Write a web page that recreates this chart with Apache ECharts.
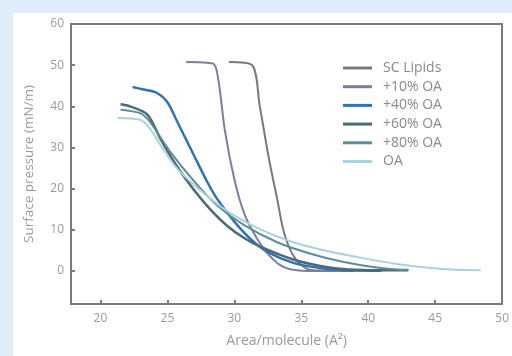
<!DOCTYPE html>
<html>
<head>
<meta charset="utf-8">
<script src="https://cdn.jsdelivr.net/npm/echarts@6/dist/echarts.min.js"></script>
<style>
  html, body { margin: 0; padding: 0; background: #deedf9; }
  #main { width: 512px; height: 356px; }
</style>
</head>
<body>
<div id="main"></div>
<script>
// isotherms: [area, pressure]
const seriesNames = ['SC Lipids', '+10% OA', '+40% OA', '+60% OA', '+80% OA', 'OA']
const scLipids = [[29.6, 50.8], [31.3, 50.1], [31.9, 40], [32.6, 27], [33.2, 17.5], [33.7, 9.5], [34.4, 3.8], [35.4, 0.6], [36.5, 0.1], [39, 0]]
const oa10 = [[26.4, 50.8], [28.4, 50.4], [28.8, 46.5], [29.3, 34], [30, 22.3], [30.7, 14.3], [31.4, 9.5], [32.4, 4.6], [33.4, 1.5], [34.4, 0.3], [36, 0], [38, 0]]
const oa40 = [[22.4, 44.7], [23.2, 44.1], [24.2, 43.3], [25, 41], [25.7, 36.5], [27, 28], [28, 21.5], [28.7, 17.6], [30, 12], [31.2, 7.8], [32.4, 4.8], [34.4, 2], [36.5, 0.7], [38.5, 0.2], [41, 0.1]]
const oa60 = [[21.5, 40.5], [22.2, 40], [23.5, 38], [24.5, 32], [25.7, 25.5], [27, 19.6], [28.2, 15], [29.5, 10.9], [30.7, 8.1], [31.9, 6], [34.4, 2.8], [36.5, 1.2], [38.5, 0.4], [41, 0.2], [43, 0.2]]
const oa80 = [[21.5, 39.2], [23, 38.3], [23.7, 36.2], [25.2, 29], [27, 21.8], [28.7, 16], [30.7, 11.2], [33.2, 7], [35.7, 4.2], [38, 2.3], [40.5, 0.9], [42.5, 0.3], [43, 0.3]]
const oaOnly = [[21.3, 37.2], [22.9, 36.8], [23.6, 35], [24.5, 30.5], [25.7, 25], [27.5, 19.5], [29.5, 14.5], [31.9, 10.2], [34.4, 7], [37, 4.8], [39.5, 3.2], [42, 1.8], [44.5, 0.8], [46.5, 0.3], [48.4, 0.2]]
const xTicks = [20, 25, 30, 35, 40, 45, 50]
const yTicks = [0, 10, 20, 30, 40, 50, 60]

const allData = [scLipids, oa10, oa40, oa60, oa80, oaOnly]
const colors = ['#78787f', '#7d7da2', '#2f73b6', '#4a6a76', '#5b8e97', '#a9d3dc']
const widths = [2, 2, 2.5, 2.5, 2, 2]
const labelColor = '#9a9a9a'
const frameColor = '#7a7a7a'

const myChart = echarts.init(document.getElementById('main'))
const frameAxis = {
  show: true,
  axisLine: { show: true, onZero: false, lineStyle: { color: frameColor, width: 2 } },
  axisTick: { show: false },
  axisLabel: { show: false },
  splitLine: { show: false }
}
const option = {
  backgroundColor: '#deedf9',
  textStyle: { fontFamily: 'Open Sans' },
  graphic: [
    { type: 'rect', z: -10, silent: true, shape: { x: 13, y: 13, width: 499, height: 343 }, style: { fill: '#ffffff' } }
  ],
  grid: { left: 71, right: 7, top: 24, bottom: 52 },
  legend: {
    orient: 'vertical',
    left: 343, top: 61, padding: 0,
    itemWidth: 29, itemHeight: 3, itemGap: 4.7,
    icon: 'rect',
    data: seriesNames,
    textStyle: { color: '#8a8a8a', fontSize: 14, lineHeight: 12, padding: [0, 0, 0, 6], fontFamily: 'Open Sans' }
  },
  xAxis: [{
    type: 'value', min: 17.8, max: 50,
    name: 'Area/molecule (A²)', nameLocation: 'middle', nameGap: 30,
    nameTextStyle: { color: labelColor, fontSize: 14 },
    axisLine: { onZero: false, lineStyle: { color: frameColor, width: 2 } },
    axisTick: { inside: true, length: 4, customValues: xTicks, lineStyle: { color: frameColor, width: 2 } },
    axisLabel: { customValues: xTicks, color: labelColor, fontSize: 12, margin: 9 },
    splitLine: { show: false }
  }, Object.assign({ type: 'value', min: 17.8, max: 50, position: 'top' }, frameAxis)],
  yAxis: [{
    type: 'value', min: -8, max: 60,
    name: 'Surface pressure (mN/m)', nameLocation: 'middle', nameGap: 35,
    nameTextStyle: { color: labelColor, fontSize: 13.5 },
    axisLine: { show: true, onZero: false, lineStyle: { color: frameColor, width: 2 } },
    axisTick: { show: true, inside: true, length: 4, customValues: yTicks, lineStyle: { color: frameColor, width: 2 } },
    axisLabel: { customValues: yTicks, color: labelColor, fontSize: 12, margin: 7 },
    splitLine: { show: false }
  }, Object.assign({ type: 'value', min: -8, max: 60, position: 'right' }, frameAxis)],
  series: seriesNames.map((name, i) => ({
    name: name,
    type: 'line',
    data: allData[i],
    showSymbol: false,
    smooth: 0.3,
    color: colors[i],
    lineStyle: { color: colors[i], width: widths[i] }
  }))
}
option && myChart.setOption(option)
</script>
</body>
</html>
